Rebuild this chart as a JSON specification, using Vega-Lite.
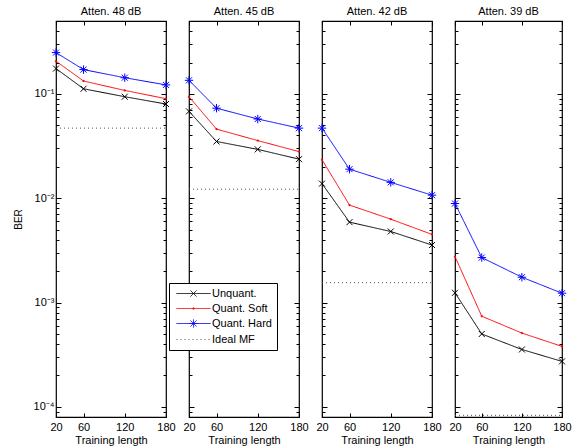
{
  "$schema": "https://vega.github.io/schema/vega-lite/v6.json",
  "padding": {"left": 12, "top": 4, "right": 5, "bottom": 2},
  "background": "white",
  "bounds": "flush",
  "datasets": {
    "ber": [
      {"panel": "48", "series": "Unquant.", "len": 20, "ber": 0.175},
      {"panel": "48", "series": "Unquant.", "len": 60, "ber": 0.112},
      {"panel": "48", "series": "Unquant.", "len": 120, "ber": 0.094},
      {"panel": "48", "series": "Unquant.", "len": 180, "ber": 0.080},
      {"panel": "48", "series": "Quant. Soft", "len": 20, "ber": 0.206},
      {"panel": "48", "series": "Quant. Soft", "len": 60, "ber": 0.133},
      {"panel": "48", "series": "Quant. Soft", "len": 120, "ber": 0.108},
      {"panel": "48", "series": "Quant. Soft", "len": 180, "ber": 0.090},
      {"panel": "48", "series": "Quant. Hard", "len": 20, "ber": 0.249},
      {"panel": "48", "series": "Quant. Hard", "len": 60, "ber": 0.171},
      {"panel": "48", "series": "Quant. Hard", "len": 120, "ber": 0.143},
      {"panel": "48", "series": "Quant. Hard", "len": 180, "ber": 0.122},
      {"panel": "48", "series": "Ideal MF", "len": 20, "ber": 0.047},
      {"panel": "48", "series": "Ideal MF", "len": 180, "ber": 0.047},

      {"panel": "45", "series": "Unquant.", "len": 20, "ber": 0.068},
      {"panel": "45", "series": "Unquant.", "len": 60, "ber": 0.035},
      {"panel": "45", "series": "Unquant.", "len": 120, "ber": 0.0294},
      {"panel": "45", "series": "Unquant.", "len": 180, "ber": 0.0237},
      {"panel": "45", "series": "Quant. Soft", "len": 20, "ber": 0.094},
      {"panel": "45", "series": "Quant. Soft", "len": 60, "ber": 0.046},
      {"panel": "45", "series": "Quant. Soft", "len": 120, "ber": 0.0357},
      {"panel": "45", "series": "Quant. Soft", "len": 180, "ber": 0.028},
      {"panel": "45", "series": "Quant. Hard", "len": 20, "ber": 0.135},
      {"panel": "45", "series": "Quant. Hard", "len": 60, "ber": 0.073},
      {"panel": "45", "series": "Quant. Hard", "len": 120, "ber": 0.0575},
      {"panel": "45", "series": "Quant. Hard", "len": 180, "ber": 0.047},
      {"panel": "45", "series": "Ideal MF", "len": 20, "ber": 0.0122},
      {"panel": "45", "series": "Ideal MF", "len": 180, "ber": 0.0122},

      {"panel": "42", "series": "Unquant.", "len": 20, "ber": 0.0138},
      {"panel": "42", "series": "Unquant.", "len": 60, "ber": 0.0059},
      {"panel": "42", "series": "Unquant.", "len": 120, "ber": 0.0048},
      {"panel": "42", "series": "Unquant.", "len": 180, "ber": 0.00356},
      {"panel": "42", "series": "Quant. Soft", "len": 20, "ber": 0.0234},
      {"panel": "42", "series": "Quant. Soft", "len": 60, "ber": 0.0086},
      {"panel": "42", "series": "Quant. Soft", "len": 120, "ber": 0.0063},
      {"panel": "42", "series": "Quant. Soft", "len": 180, "ber": 0.0045},
      {"panel": "42", "series": "Quant. Hard", "len": 20, "ber": 0.047},
      {"panel": "42", "series": "Quant. Hard", "len": 60, "ber": 0.019},
      {"panel": "42", "series": "Quant. Hard", "len": 120, "ber": 0.0142},
      {"panel": "42", "series": "Quant. Hard", "len": 180, "ber": 0.0107},
      {"panel": "42", "series": "Ideal MF", "len": 20, "ber": 0.00155},
      {"panel": "42", "series": "Ideal MF", "len": 180, "ber": 0.00155},

      {"panel": "39", "series": "Unquant.", "len": 20, "ber": 0.00124},
      {"panel": "39", "series": "Unquant.", "len": 60, "ber": 0.0005},
      {"panel": "39", "series": "Unquant.", "len": 120, "ber": 0.000355},
      {"panel": "39", "series": "Unquant.", "len": 180, "ber": 0.000273},
      {"panel": "39", "series": "Quant. Soft", "len": 20, "ber": 0.00276},
      {"panel": "39", "series": "Quant. Soft", "len": 60, "ber": 0.00074},
      {"panel": "39", "series": "Quant. Soft", "len": 120, "ber": 0.00051},
      {"panel": "39", "series": "Quant. Soft", "len": 180, "ber": 0.00038},
      {"panel": "39", "series": "Quant. Hard", "len": 20, "ber": 0.0089},
      {"panel": "39", "series": "Quant. Hard", "len": 60, "ber": 0.0027},
      {"panel": "39", "series": "Quant. Hard", "len": 120, "ber": 0.00175},
      {"panel": "39", "series": "Quant. Hard", "len": 180, "ber": 0.00123},
      {"panel": "39", "series": "Ideal MF", "len": 20, "ber": 0.000083},
      {"panel": "39", "series": "Ideal MF", "len": 180, "ber": 0.000083}
    ]
  },
  "data": {"name": "ber"},
  "spacing": 23,
  "hconcat": [
    {
      "width": 110, "height": 396,
      "title": {"text": "Atten. 48 dB"},
      "transform": [{"filter": "datum.panel == '48'"}],
      "encoding": {
        "x": {"field": "len", "type": "quantitative", "scale": {"domain": [20, 180], "nice": false, "zero": false},
              "axis": {"values": [20, 60, 120, 180], "title": "Training length"}},
        "y": {"field": "ber", "type": "quantitative", "scale": {"type": "log", "domain": [0.00008, 0.5], "nice": false},
              "axis": {"values": [0.00009, 0.0001, 0.0002, 0.0003, 0.0004, 0.0005, 0.0006, 0.0007, 0.0008, 0.0009, 0.001, 0.002, 0.003, 0.004, 0.005, 0.006, 0.007, 0.008, 0.009, 0.01, 0.02, 0.03, 0.04, 0.05, 0.06, 0.07, 0.08, 0.09, 0.1, 0.2, 0.3, 0.4, 0.5],
                       "title": "BER",
                       "tickSize": {"condition": {"test": "abs(log(datum.value)/LN10 - round(log(datum.value)/LN10)) < 0.01", "value": -5}, "value": -3},
                       "labelExpr": "abs(log(datum.value)/LN10 - round(log(datum.value)/LN10)) < 0.01 ? '10⁻' + ['⁰','¹','²','³','⁴','⁵'][-round(log(datum.value)/LN10)] : ''"}},
        "color": {"field": "series", "type": "nominal",
                  "scale": {"domain": ["Unquant.", "Quant. Soft", "Quant. Hard", "Ideal MF"], "range": ["#000000", "#ff0000", "#0000ff", "#555555"]},
                  "legend": {"orient": "none", "legendX": 113, "legendY": 262, "title": null, "symbolSize": 100, "symbolStrokeWidth": 1,
                             "labelFontSize": 11, "labelFont": "Liberation Sans", "labelColor": "black", "rowPadding": 3, "padding": 5,
                             "strokeColor": "black", "fillColor": "white", "symbolOffset": 14, "labelOffset": 13,
                             "encode": {"symbols": {"update": {
                               "shape": {"signal": "datum.value == 'Unquant.' ? 'M-3.4,0H3.4M-0.6,-0.6L0.6,0.6M-0.6,0.6L0.6,-0.6' : datum.value == 'Quant. Soft' ? 'M-3.4,0H3.4M-0.12,-0.12H0.12V0.12H-0.12Z' : datum.value == 'Quant. Hard' ? 'M-3.4,0H3.4M0,-0.8V0.8M-0.8,0H0.8M-0.6,-0.6L0.6,0.6M-0.6,0.6L0.6,-0.6' : 'M-3.4,0H3.4'"},
                               "strokeDash": {"signal": "datum.value == 'Ideal MF' ? [1, 4] : [1, 0]"},
                               "fill": {"value": "transparent"},
                               "strokeWidth": {"value": 1}}}}}}
      },
      "layer": [
        {"mark": {"type": "line", "strokeWidth": 1},
         "encoding": {"strokeDash": {"field": "series", "type": "nominal", "legend": null,
                       "scale": {"domain": ["Unquant.", "Quant. Soft", "Quant. Hard", "Ideal MF"], "range": [[1, 0], [1, 0], [1, 0], [1, 3]]}}}},
        {"transform": [{"filter": "datum.series != 'Ideal MF'"}],
         "mark": {"type": "point", "filled": false, "strokeWidth": 1, "opacity": 1, "size": 36},
         "encoding": {
           "shape": {"field": "series", "type": "nominal", "legend": null,
                     "scale": {"domain": ["Unquant.", "Quant. Soft", "Quant. Hard"], "range": ["M-1,-1L1,1M-1,1L1,-1", "M-0.2,-0.2H0.2V0.2H-0.2Z", "M0,-1.4V1.4M-1.4,0H1.4M-1,-1L1,1M-1,1L1,-1"]}},
           "x": {"field": "len", "type": "quantitative", "axis": {"orient": "top", "values": [20, 60, 120, 180], "labels": false, "title": null}},
           "y": {"field": "ber", "type": "quantitative", "axis": {"orient": "right", "values": [0.00009, 0.0001, 0.0002, 0.0003, 0.0004, 0.0005, 0.0006, 0.0007, 0.0008, 0.0009, 0.001, 0.002, 0.003, 0.004, 0.005, 0.006, 0.007, 0.008, 0.009, 0.01, 0.02, 0.03, 0.04, 0.05, 0.06, 0.07, 0.08, 0.09, 0.1, 0.2, 0.3, 0.4, 0.5], "labels": false, "title": null,
                 "tickSize": {"condition": {"test": "abs(log(datum.value)/LN10 - round(log(datum.value)/LN10)) < 0.01", "value": -5}, "value": -3}}}
         }}
      ],
      "resolve": {"axis": {"x": "independent", "y": "independent"}}
    },
    {
      "width": 110, "height": 396,
      "title": {"text": "Atten. 45 dB"},
      "transform": [{"filter": "datum.panel == '45'"}],
      "encoding": {
        "x": {"field": "len", "type": "quantitative", "scale": {"domain": [20, 180], "nice": false, "zero": false},
              "axis": {"values": [20, 60, 120, 180], "title": "Training length"}},
        "y": {"field": "ber", "type": "quantitative", "scale": {"type": "log", "domain": [0.00008, 0.5], "nice": false},
              "axis": {"values": [0.00009, 0.0001, 0.0002, 0.0003, 0.0004, 0.0005, 0.0006, 0.0007, 0.0008, 0.0009, 0.001, 0.002, 0.003, 0.004, 0.005, 0.006, 0.007, 0.008, 0.009, 0.01, 0.02, 0.03, 0.04, 0.05, 0.06, 0.07, 0.08, 0.09, 0.1, 0.2, 0.3, 0.4, 0.5], "title": null, "labels": false,
                       "tickSize": {"condition": {"test": "abs(log(datum.value)/LN10 - round(log(datum.value)/LN10)) < 0.01", "value": -5}, "value": -3}}},
        "color": {"field": "series", "type": "nominal",
                  "scale": {"domain": ["Unquant.", "Quant. Soft", "Quant. Hard", "Ideal MF"], "range": ["#000000", "#ff0000", "#0000ff", "#555555"]}}
      },
      "layer": [
        {"mark": {"type": "line", "strokeWidth": 1},
         "encoding": {"strokeDash": {"field": "series", "type": "nominal", "legend": null,
                       "scale": {"domain": ["Unquant.", "Quant. Soft", "Quant. Hard", "Ideal MF"], "range": [[1, 0], [1, 0], [1, 0], [1, 3]]}}}},
        {"transform": [{"filter": "datum.series != 'Ideal MF'"}],
         "mark": {"type": "point", "filled": false, "strokeWidth": 1, "opacity": 1, "size": 36},
         "encoding": {
           "shape": {"field": "series", "type": "nominal", "legend": null,
                     "scale": {"domain": ["Unquant.", "Quant. Soft", "Quant. Hard"], "range": ["M-1,-1L1,1M-1,1L1,-1", "M-0.2,-0.2H0.2V0.2H-0.2Z", "M0,-1.4V1.4M-1.4,0H1.4M-1,-1L1,1M-1,1L1,-1"]}},
           "x": {"field": "len", "type": "quantitative", "axis": {"orient": "top", "values": [20, 60, 120, 180], "labels": false, "title": null}},
           "y": {"field": "ber", "type": "quantitative", "axis": {"orient": "right", "values": [0.00009, 0.0001, 0.0002, 0.0003, 0.0004, 0.0005, 0.0006, 0.0007, 0.0008, 0.0009, 0.001, 0.002, 0.003, 0.004, 0.005, 0.006, 0.007, 0.008, 0.009, 0.01, 0.02, 0.03, 0.04, 0.05, 0.06, 0.07, 0.08, 0.09, 0.1, 0.2, 0.3, 0.4, 0.5], "labels": false, "title": null,
                 "tickSize": {"condition": {"test": "abs(log(datum.value)/LN10 - round(log(datum.value)/LN10)) < 0.01", "value": -5}, "value": -3}}}
         }}
      ],
      "resolve": {"axis": {"x": "independent", "y": "independent"}}
    },
    {
      "width": 110, "height": 396,
      "title": {"text": "Atten. 42 dB"},
      "transform": [{"filter": "datum.panel == '42'"}],
      "encoding": {
        "x": {"field": "len", "type": "quantitative", "scale": {"domain": [20, 180], "nice": false, "zero": false},
              "axis": {"values": [20, 60, 120, 180], "title": "Training length"}},
        "y": {"field": "ber", "type": "quantitative", "scale": {"type": "log", "domain": [0.00008, 0.5], "nice": false},
              "axis": {"values": [0.00009, 0.0001, 0.0002, 0.0003, 0.0004, 0.0005, 0.0006, 0.0007, 0.0008, 0.0009, 0.001, 0.002, 0.003, 0.004, 0.005, 0.006, 0.007, 0.008, 0.009, 0.01, 0.02, 0.03, 0.04, 0.05, 0.06, 0.07, 0.08, 0.09, 0.1, 0.2, 0.3, 0.4, 0.5], "title": null, "labels": false,
                       "tickSize": {"condition": {"test": "abs(log(datum.value)/LN10 - round(log(datum.value)/LN10)) < 0.01", "value": -5}, "value": -3}}},
        "color": {"field": "series", "type": "nominal",
                  "scale": {"domain": ["Unquant.", "Quant. Soft", "Quant. Hard", "Ideal MF"], "range": ["#000000", "#ff0000", "#0000ff", "#555555"]}}
      },
      "layer": [
        {"mark": {"type": "line", "strokeWidth": 1},
         "encoding": {"strokeDash": {"field": "series", "type": "nominal", "legend": null,
                       "scale": {"domain": ["Unquant.", "Quant. Soft", "Quant. Hard", "Ideal MF"], "range": [[1, 0], [1, 0], [1, 0], [1, 3]]}}}},
        {"transform": [{"filter": "datum.series != 'Ideal MF'"}],
         "mark": {"type": "point", "filled": false, "strokeWidth": 1, "opacity": 1, "size": 36},
         "encoding": {
           "shape": {"field": "series", "type": "nominal", "legend": null,
                     "scale": {"domain": ["Unquant.", "Quant. Soft", "Quant. Hard"], "range": ["M-1,-1L1,1M-1,1L1,-1", "M-0.2,-0.2H0.2V0.2H-0.2Z", "M0,-1.4V1.4M-1.4,0H1.4M-1,-1L1,1M-1,1L1,-1"]}},
           "x": {"field": "len", "type": "quantitative", "axis": {"orient": "top", "values": [20, 60, 120, 180], "labels": false, "title": null}},
           "y": {"field": "ber", "type": "quantitative", "axis": {"orient": "right", "values": [0.00009, 0.0001, 0.0002, 0.0003, 0.0004, 0.0005, 0.0006, 0.0007, 0.0008, 0.0009, 0.001, 0.002, 0.003, 0.004, 0.005, 0.006, 0.007, 0.008, 0.009, 0.01, 0.02, 0.03, 0.04, 0.05, 0.06, 0.07, 0.08, 0.09, 0.1, 0.2, 0.3, 0.4, 0.5], "labels": false, "title": null,
                 "tickSize": {"condition": {"test": "abs(log(datum.value)/LN10 - round(log(datum.value)/LN10)) < 0.01", "value": -5}, "value": -3}}}
         }}
      ],
      "resolve": {"axis": {"x": "independent", "y": "independent"}}
    },
    {
      "width": 107, "height": 396,
      "title": {"text": "Atten. 39 dB"},
      "transform": [{"filter": "datum.panel == '39'"}],
      "encoding": {
        "x": {"field": "len", "type": "quantitative", "scale": {"domain": [20, 180], "nice": false, "zero": false},
              "axis": {"values": [20, 60, 120, 180], "title": "Training length"}},
        "y": {"field": "ber", "type": "quantitative", "scale": {"type": "log", "domain": [0.00008, 0.5], "nice": false},
              "axis": {"values": [0.00009, 0.0001, 0.0002, 0.0003, 0.0004, 0.0005, 0.0006, 0.0007, 0.0008, 0.0009, 0.001, 0.002, 0.003, 0.004, 0.005, 0.006, 0.007, 0.008, 0.009, 0.01, 0.02, 0.03, 0.04, 0.05, 0.06, 0.07, 0.08, 0.09, 0.1, 0.2, 0.3, 0.4, 0.5], "title": null, "labels": false,
                       "tickSize": {"condition": {"test": "abs(log(datum.value)/LN10 - round(log(datum.value)/LN10)) < 0.01", "value": -5}, "value": -3}}},
        "color": {"field": "series", "type": "nominal",
                  "scale": {"domain": ["Unquant.", "Quant. Soft", "Quant. Hard", "Ideal MF"], "range": ["#000000", "#ff0000", "#0000ff", "#555555"]}}
      },
      "layer": [
        {"mark": {"type": "line", "strokeWidth": 1},
         "encoding": {"strokeDash": {"field": "series", "type": "nominal", "legend": null,
                       "scale": {"domain": ["Unquant.", "Quant. Soft", "Quant. Hard", "Ideal MF"], "range": [[1, 0], [1, 0], [1, 0], [1, 3]]}}}},
        {"transform": [{"filter": "datum.series != 'Ideal MF'"}],
         "mark": {"type": "point", "filled": false, "strokeWidth": 1, "opacity": 1, "size": 36},
         "encoding": {
           "shape": {"field": "series", "type": "nominal", "legend": null,
                     "scale": {"domain": ["Unquant.", "Quant. Soft", "Quant. Hard"], "range": ["M-1,-1L1,1M-1,1L1,-1", "M-0.2,-0.2H0.2V0.2H-0.2Z", "M0,-1.4V1.4M-1.4,0H1.4M-1,-1L1,1M-1,1L1,-1"]}},
           "x": {"field": "len", "type": "quantitative", "axis": {"orient": "top", "values": [20, 60, 120, 180], "labels": false, "title": null}},
           "y": {"field": "ber", "type": "quantitative", "axis": {"orient": "right", "values": [0.00009, 0.0001, 0.0002, 0.0003, 0.0004, 0.0005, 0.0006, 0.0007, 0.0008, 0.0009, 0.001, 0.002, 0.003, 0.004, 0.005, 0.006, 0.007, 0.008, 0.009, 0.01, 0.02, 0.03, 0.04, 0.05, 0.06, 0.07, 0.08, 0.09, 0.1, 0.2, 0.3, 0.4, 0.5], "labels": false, "title": null,
                 "tickSize": {"condition": {"test": "abs(log(datum.value)/LN10 - round(log(datum.value)/LN10)) < 0.01", "value": -5}, "value": -3}}}
         }}
      ],
      "resolve": {"axis": {"x": "independent", "y": "independent"}}
    }
  ],
  "config": {
    "font": "Liberation Sans",
    "view": {"stroke": "black", "strokeWidth": 1.2},
    "title": {"fontSize": 11, "fontWeight": "normal", "color": "black", "offset": 4},
    "axis": {"domain": false, "grid": false, "tickColor": "black", "tickSize": -4, "tickWidth": 1,
             "labelFontSize": 11, "labelColor": "black", "labelPadding": 8, "labelFlush": false,
             "titleFontSize": 11, "titleFontWeight": "normal", "titleColor": "black", "titlePadding": 2},
    "axisY": {"titleFontSize": 10, "titlePadding": 10, "labelPadding": 7}
  }
}
